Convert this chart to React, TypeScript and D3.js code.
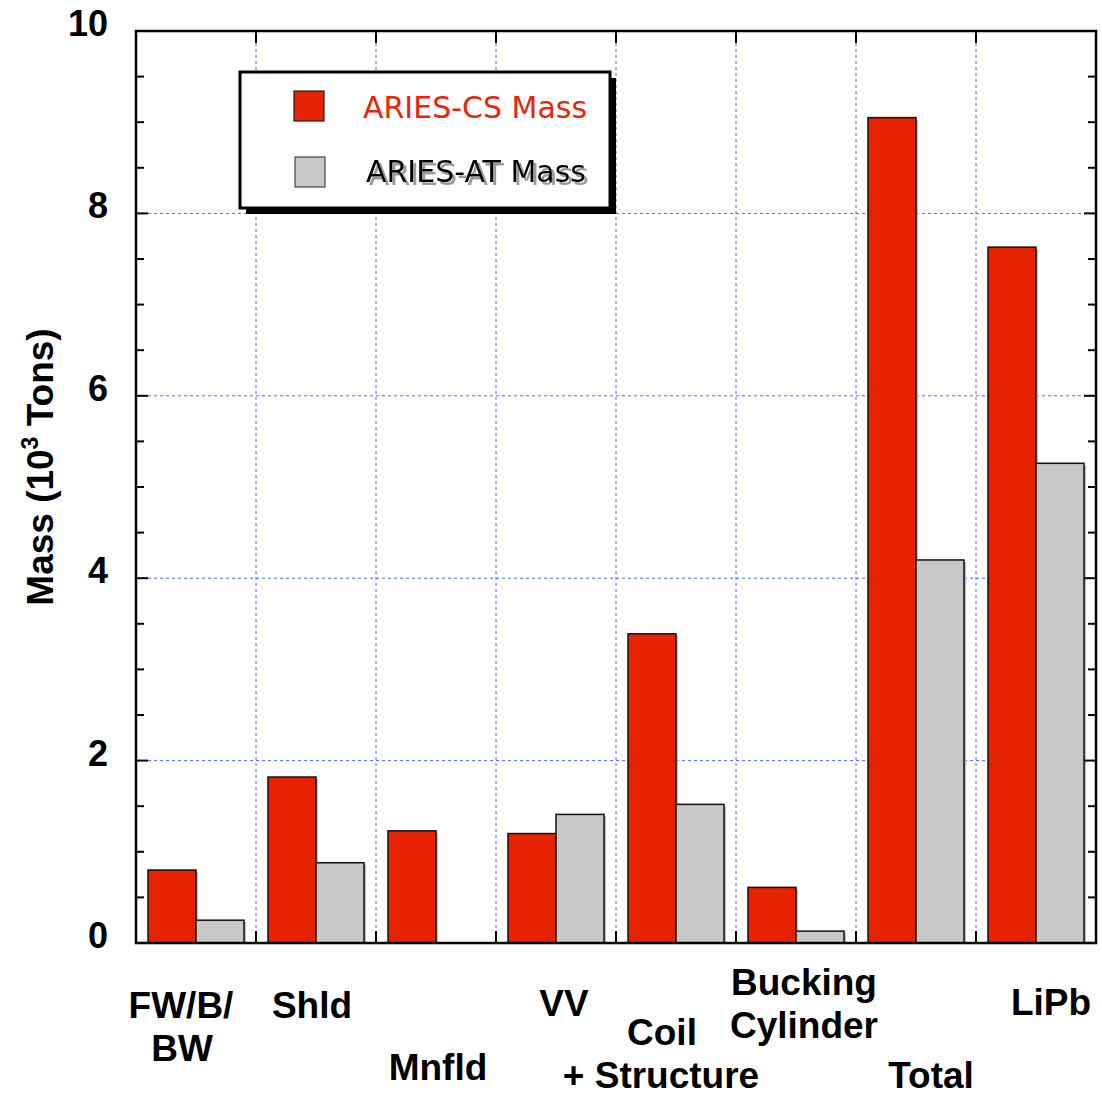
import React from "react";
import * as d3 from "d3";

const categories = ["FW/B/BW", "Shld", "Mnfld", "VV", "Coil + Structure", "Bucking Cylinder", "Total", "LiPb"];
const csMass = [0.8, 1.82, 1.23, 1.2, 3.39, 0.61, 9.05, 7.63];
const atMass = [0.25, 0.88, 0, 1.41, 1.52, 0.13, 4.2, 5.26];
const seriesNames = ["ARIES-CS Mass", "ARIES-AT Mass"];
const yMajorTicks = [0, 2, 4, 6, 8, 10];
// label lines per category
const labelLines: string[][] = [
  ["FW/B/", "BW"],
  ["Shld"],
  ["Mnfld"],
  ["VV"],
  ["Coil", "+ Structure"],
  ["Bucking", "Cylinder"],
  ["Total"],
  ["LiPb"],
];
// layout: [centerX offset from band center, first baseline y, line gap, per-line dx]
const labelLayout: [number, number, number, number[]][] = [
  [-15, 1018, 43, [0, 1]],
  [-4, 1018, 0, [0]],
  [2, 1080, 0, [0]],
  [8, 1016, 0, [0]],
  [-15, 1045, 43, [1, 0]],
  [8, 995, 43, [0, 0]],
  [15, 1088, 0, [0]],
  [15, 1015, 0, [0]],
];

const RED = "#e62200";
const GRAY = "#c8c8c8";
const GRID = "#4a6cf0";

export default function App() {
  const left = 136, right = 1096, top = 31, bottom = 943;
  const x = d3.scaleBand<string>().domain(categories).range([left, right]).paddingInner(0.2).paddingOuter(0.1);
  const step = x.step();
  const xs = d3.scaleBand<string>().domain(seriesNames).range([0, x.bandwidth()]);
  const y = d3.scaleLinear().domain([0, 10]).range([bottom, top]);
  const minorTicks = d3.range(0, 10.01, 0.5).filter((v) => Math.abs(v % 2) > 0.01);
  const boundaries = categories.slice(1).map((c) => (x(c) as number) - step * 0.1);
  const values = [csMass, atMass];
  const fills = [RED, GRAY];
  const font = "'Liberation Sans', Arial, Helvetica, sans-serif";
  const lfont = "'DejaVu Sans', Verdana, sans-serif";

  return (
    <svg width={1102} height={1097} style={{ position: "absolute", left: 0, top: 0 }}>
      <defs>
        <filter id="tshadow" x="-5%" y="-20%" width="115%" height="150%">
          <feDropShadow dx={3} dy={3} stdDeviation={0.6} floodColor="#9a9a9a" floodOpacity={1} />
        </filter>
      </defs>
      <rect width={1102} height={1097} fill="white" />
      {/* grid */}
      {yMajorTicks.filter((t) => t > 0 && t < 10).map((t) => (
        <line key={"hg" + t} x1={left} x2={right} y1={y(t)} y2={y(t)} stroke={GRID} strokeWidth={1} strokeDasharray="3,3" />
      ))}
      {boundaries.map((b, i) => (
        <line key={"vg" + i} x1={b} x2={b} y1={top} y2={bottom} stroke={GRID} strokeWidth={1} strokeDasharray="3,3" />
      ))}
      {/* bars */}
      {categories.map((c, ci) =>
        seriesNames.map((s, si) => {
          const v = values[si][ci];
          if (!v) return null;
          const bx = (x(c) as number) + (xs(s) as number);
          const bw = xs.bandwidth();
          return (
            <g key={c + s}>
              <rect x={bx + 2} y={y(v) + 2} width={bw} height={bottom - y(v) - 2} fill="#bdbdbd" />
              <rect x={bx} y={y(v)} width={bw} height={bottom - y(v)} fill={fills[si]} stroke="#111" strokeWidth={1.5} />
            </g>
          );
        })
      )}
      {/* ticks */}
      {yMajorTicks.map((t) => (
        <g key={"mt" + t}>
          <line x1={left} x2={left + 12} y1={y(t)} y2={y(t)} stroke="#000" strokeWidth={2} />
          <line x1={right - 12} x2={right} y1={y(t)} y2={y(t)} stroke="#000" strokeWidth={2} />
        </g>
      ))}
      {minorTicks.map((t) => (
        <g key={"mn" + t}>
          <line x1={left} x2={left + 8} y1={y(t)} y2={y(t)} stroke="#000" strokeWidth={2} />
          <line x1={right - 8} x2={right} y1={y(t)} y2={y(t)} stroke="#000" strokeWidth={2} />
        </g>
      ))}
      {boundaries.map((b, i) => (
        <g key={"bt" + i}>
          <line x1={b} x2={b} y1={top} y2={top + 12} stroke="#000" strokeWidth={2} />
          <line x1={b} x2={b} y1={bottom - 12} y2={bottom} stroke="#000" strokeWidth={2} />
        </g>
      ))}
      {/* frame */}
      <rect x={left} y={top} width={right - left} height={bottom - top} fill="none" stroke="#000" strokeWidth={2.5} />
      {/* y tick labels */}
      {yMajorTicks.map((t) => (
        <text key={"yl" + t} x={108} y={y(t) + 5} textAnchor="end" fontFamily={font} fontWeight="bold" fontSize={36} fill="#000">
          {t}
        </text>
      ))}
      {/* y title */}
      <text transform={`translate(53,467) rotate(-90)`} textAnchor="middle" fontFamily={font} fontWeight="bold" fontSize={37} fill="#000">
        Mass (10<tspan fontSize={23} dy={-15}>3</tspan><tspan dy={15}> Tons)</tspan>
      </text>
      {/* category labels */}
      {categories.map((c, ci) => {
        const [dx, by, gap, ldx] = labelLayout[ci];
        const cx = (x(c) as number) + x.bandwidth() / 2 + dx;
        return (
          <text key={"cl" + c} textAnchor="middle" fontFamily={font} fontWeight="bold" fontSize={37} fill="#000">
            {labelLines[ci].map((ln, li) => (
              <tspan key={li} x={cx + ldx[li]} y={by + li * gap}>{ln}</tspan>
            ))}
          </text>
        );
      })}
      {/* legend */}
      <g>
        <path d="M246,78 L616,78 L616,214 L246,214 Z" fill="#000" />
        <rect x={240} y={72} width={370} height={136} fill="white" stroke="#000" strokeWidth={3} />
        <rect x={294} y={91} width={30} height={30} fill={RED} stroke="#222" strokeWidth={1.2} />
        <rect x={295} y={157} width={30} height={30} fill={GRAY} stroke="#444" strokeWidth={1.2} />
        <text x={363} y={118} fontFamily={lfont} fontSize={30} fill="#e8260c">{seriesNames[0]}</text>
        <text x={366} y={182} fontFamily={lfont} fontSize={30} fill="#000" filter="url(#tshadow)">{seriesNames[1]}</text>
      </g>
    </svg>
  );
}
